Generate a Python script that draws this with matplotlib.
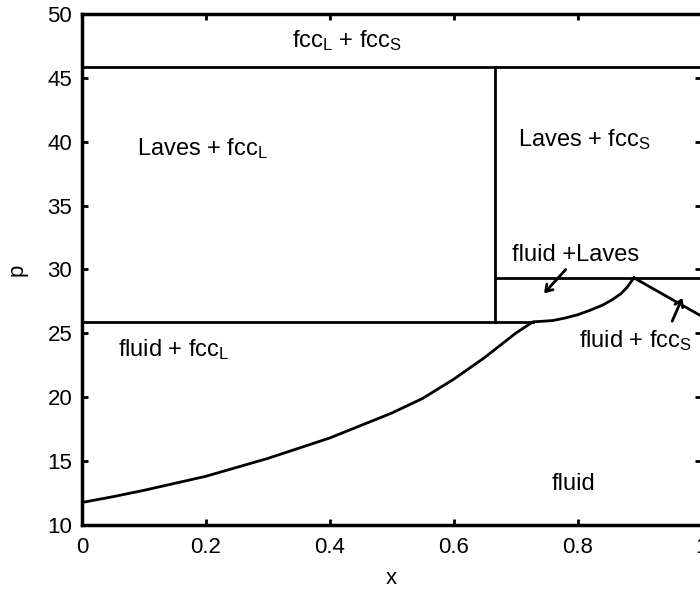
import matplotlib
matplotlib.use('Agg')
import matplotlib.pyplot as plt

plt.rcParams['font.family'] = 'Liberation Sans'
plt.rcParams['mathtext.fontset'] = 'custom'
plt.rcParams['mathtext.rm'] = 'Liberation Sans'
plt.rcParams['mathtext.default'] = 'regular'

# phase boundaries
fluid_x = [0.0, 0.05, 0.1, 0.2, 0.3, 0.4, 0.5, 0.55, 0.6, 0.65, 0.7, 0.728,
           0.745, 0.76, 0.78, 0.80, 0.82, 0.84, 0.855, 0.87, 0.88, 0.891]
fluid_p = [11.75, 12.2, 12.7, 13.8, 15.2, 16.8, 18.75, 19.9, 21.4, 23.1, 25.0, 25.9,
           25.95, 26.0, 26.2, 26.45, 26.8, 27.2, 27.6, 28.1, 28.6, 29.35]
fccs_x = [0.891, 1.0]
fccs_p = [29.35, 26.35]

p_low = 25.9      # fluid + fccL / Laves + fccL
p_mid = 29.35     # fluid + Laves / Laves + fccS
p_top = 45.85     # fccL + fccS
x_laves = 2 / 3.

labels = [
    (0.339, 47.4, r'fcc$_L$ + fcc$_S$'),
    (0.089, 38.94, r'Laves + fcc$_L$'),
    (0.704, 39.7, r'Laves + fcc$_S$'),
    (0.695, 30.7, 'fluid +Laves'),
    (0.803, 23.95, r'fluid + fcc$_S$'),
    (0.059, 23.19, r'fluid + fcc$_L$'),
    (0.758, 12.74, 'fluid'),
]
arrows = [
    ((0.784, 30.16), (0.743, 27.97)),
    ((0.951, 25.75), (0.971, 27.97)),
]

fig = plt.figure(figsize=(7.0, 5.91), dpi=100)
ax = fig.add_axes([0.117, 0.112, 0.885, 0.864])

lw = 2.0
ax.plot(fluid_x, fluid_p, color='black', lw=lw)
ax.plot(fccs_x, fccs_p, color='black', lw=lw)
ax.plot([0, 0.728], [p_low, p_low], color='black', lw=lw)
ax.plot([x_laves, 1], [p_mid, p_mid], color='black', lw=lw)
ax.plot([0, 1], [p_top, p_top], color='black', lw=lw)
ax.plot([x_laves, x_laves], [p_low, p_top], color='black', lw=lw)

for x, y, t in labels:
    ax.text(x, y, t, fontsize=17, ha='left', va='baseline')

for tail, head in arrows:
    ax.annotate('', xy=head, xytext=tail,
                arrowprops=dict(arrowstyle='->,head_length=0.45,head_width=0.3',
                                color='black', lw=lw))

ax.set_xlim(0, 1)
ax.set_ylim(10, 50)
ax.set_xticks([0, 0.2, 0.4, 0.6, 0.8, 1])
ax.set_xticklabels(['0', '0.2', '0.4', '0.6', '0.8', '1'])
ax.set_yticks(range(10, 51, 5))
ax.tick_params(direction='in', length=4, width=2, top=True, right=True,
               labelsize=16)
ax.tick_params(axis='x', pad=9)
ax.tick_params(axis='y', pad=7)
for s in ax.spines.values():
    s.set_linewidth(2.5)

ax.set_xlabel('x', fontsize=16, labelpad=7)
ax.set_ylabel('p', fontsize=16, labelpad=14)

fig.savefig('out.png', dpi=100)
